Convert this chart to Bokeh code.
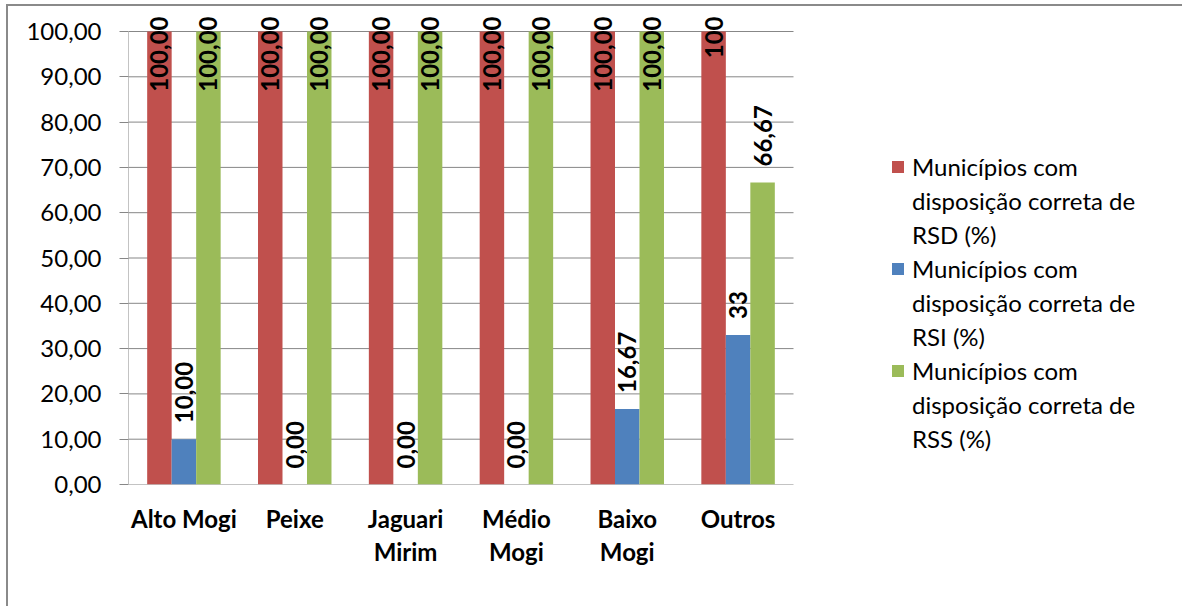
import numpy as np
from bokeh.plotting import figure
from bokeh.models import Range1d, FixedTicker, Legend, LegendItem, ColumnDataSource
from bokeh.core.properties import value
from bokeh.embed import file_html
from bokeh.resources import INLINE

# ---- data -------------------------------------------------------------
categories = ["Alto Mogi", "Peixe", "Jaguari\nMirim", "Médio\nMogi", "Baixo\nMogi", "Outros"]

series_names = [
    ["Municípios com", "disposição correta de", "RSD (%)"],
    ["Municípios com", "disposição correta de", "RSI (%)"],
    ["Municípios com", "disposição correta de", "RSS (%)"],
]
series_colors = ["#C0504D", "#4F81BD", "#9BBB59"]

rsd_values = [100, 100, 100, 100, 100, 100]
rsd_labels = ["100,00", "100,00", "100,00", "100,00", "100,00", "100"]

rsi_values = [10.00, 0.00, 0.00, 0.00, 16.67, 33]
rsi_labels = ["10,00", "0,00", "0,00", "0,00", "16,67", "33"]

rss_values = [100, 100, 100, 100, 100, 66.67]
rss_labels = ["100,00", "100,00", "100,00", "100,00", "100,00", "66,67"]

y_ticks = [0, 10, 20, 30, 40, 50, 60, 70, 80, 90, 100]
y_tick_labels = ["0,00", "10,00", "20,00", "30,00", "40,00", "50,00",
                 "60,00", "70,00", "80,00", "90,00", "100,00"]

# ---- layout -----------------------------------------------------------
W, H = 1176, 602
LEFT, TOP, BOTTOM = 120, 9, 124
frame_w = W - LEFT
frame_h = H - TOP - BOTTOM
cat_px = 665 / len(categories)          # pixels per category slot
x_end = frame_w / cat_px                 # frame extends right to hold the legend
y_end = 100 * frame_h / 453              # headroom above 100 for value labels

FONT = "Lato"
FS = "24px"
GRID = "#878787"

p = figure(width=W, height=H, output_backend="svg", toolbar_location=None,
           x_range=Range1d(0, x_end), y_range=Range1d(0, y_end),
           min_border_left=LEFT, min_border_top=TOP, min_border_bottom=BOTTOM,
           min_border_right=0)
p.margin = (4, 0, 0, 6)
p.styles = {"border-left": "2px solid #8a8a8a", "border-top": "2px solid #8a8a8a"}
p.outline_line_color = None
p.background_fill_color = "white"
p.border_fill_color = "white"
p.xgrid.visible = False
p.ygrid.visible = False

# y axis: ticks and labels only, the line is drawn as a segment below
p.yaxis.ticker = FixedTicker(ticks=y_ticks)
p.yaxis.major_label_overrides = {t: s for t, s in zip(y_ticks, y_tick_labels)}
p.yaxis.axis_line_color = None
p.yaxis.major_tick_out = 9
p.yaxis.major_tick_in = 0
p.yaxis.major_tick_line_color = GRID
p.yaxis.minor_tick_line_color = None
p.yaxis.major_label_text_font = FONT
p.yaxis.major_label_text_font_size = FS
p.yaxis.major_label_text_color = "black"
p.yaxis.major_label_standoff = 18

# x axis: category names centred in each slot
cat_pos = [i + 0.5 for i in range(len(categories))]
p.xaxis.ticker = FixedTicker(ticks=cat_pos)
p.xaxis.major_label_overrides = {c: s for c, s in zip(cat_pos, categories)}
p.xaxis.axis_line_color = None
p.xaxis.major_tick_line_color = None
p.xaxis.minor_tick_line_color = None
p.xaxis.major_label_text_font = FONT
p.xaxis.major_label_text_font_style = "bold"
p.xaxis.major_label_text_font_size = FS
p.xaxis.major_label_text_color = "black"
p.xaxis.major_label_text_line_height = 1.15
p.xaxis.major_label_standoff = 13

# gridlines, axis line and baseline across the category area only
n = len(categories)
p.segment(x0=0, x1=n, y0=y_ticks, y1=y_ticks, line_color=GRID, line_width=1)
p.segment(x0=[0], x1=[0], y0=[0], y1=[100], line_color=GRID, line_width=1)

# ---- bars ---------------------------------------------------------------
bar_w = 0.221
offsets = [-bar_w, 0.0, bar_w]
all_values = [rsd_values, rsi_values, rss_values]
all_labels = [rsd_labels, rsi_labels, rss_labels]

# blank swatch for the continuation lines of each legend entry
blank = p.vbar(x=[], top=[], width=0.1, fill_color=None, line_color=None)

items = []
for vals, labs, off, col, name in zip(all_values, all_labels, offsets,
                                      series_colors, series_names):
    xs = [c + off for c in cat_pos]
    src = ColumnDataSource(dict(x=xs, top=vals, label=labs))
    r = p.vbar(x="x", top="top", width=bar_w, source=src,
               fill_color=col, line_color=None)
    items.append(LegendItem(label=name[0], renderers=[r]))
    for line in name[1:]:
        items.append(LegendItem(label=line, renderers=[blank]))

    # value labels: above the bar, or pinned to the top when there is no room
    low = [i for i, v in enumerate(vals) if v < 100]
    high = [i for i, v in enumerate(vals) if v >= 100]
    if low:
        s = ColumnDataSource(dict(x=[xs[i] for i in low], y=[vals[i] for i in low],
                                  t=[labs[i] for i in low]))
        p.text(x="x", y="y", text="t", source=s, angle=np.pi / 2,
               text_align="left", text_baseline="middle", y_offset=-16,
               text_font=value(FONT), text_font_style="bold",
               text_font_size=FS, text_color="black")
    if high:
        s = ColumnDataSource(dict(x=[xs[i] for i in high], y=[y_end] * len(high),
                                  t=[labs[i] for i in high]))
        p.text(x="x", y="y", text="t", source=s, angle=np.pi / 2,
               text_align="right", text_baseline="middle", y_offset=1,
               text_font=value(FONT), text_font_style="bold",
               text_font_size=FS, text_color="black")

legend = Legend(items=items, location=(762, 29), orientation="vertical",
                border_line_color=None, background_fill_alpha=0,
                glyph_width=15, glyph_height=15, label_standoff=7,
                label_height=34, spacing=0, padding=0, margin=0,
                label_text_font=FONT, label_text_font_size=FS,
                label_text_color="black")
p.add_layout(legend)

open("out.html", "w").write(file_html(p, INLINE))
